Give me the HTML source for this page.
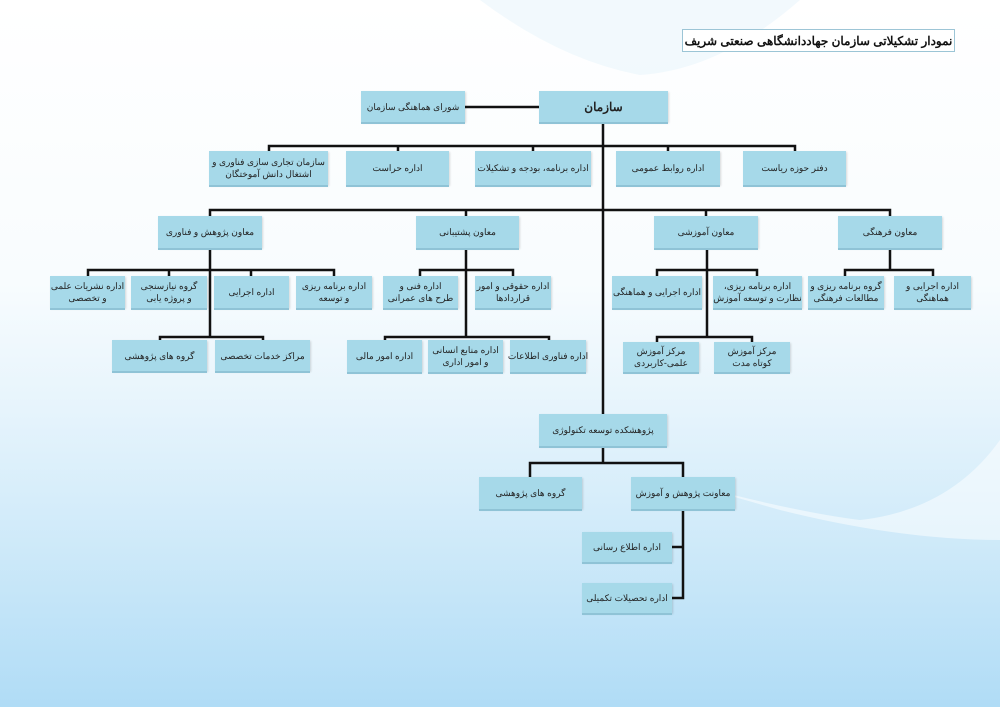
<!DOCTYPE html>
<html><head><meta charset="utf-8"><style>
html,body{margin:0;padding:0}
body{width:1000px;height:707px;position:relative;overflow:hidden;
background:linear-gradient(180deg,#ffffff 0%,#f8fcfe 40%,#e6f4fc 58%,#cde9f9 78%,#b0dcf6 100%);
font-family:"Liberation Sans","Noto Sans CJK SC",sans-serif;}
.b{position:absolute;background:#a6d9e9;box-shadow:0 2px 0 #8fc3d6,1px 1px 2px rgba(0,0,0,.15);
display:flex;align-items:center;justify-content:center;text-align:center;direction:rtl;white-space:nowrap;
font-size:9px;line-height:12px;color:#222;box-sizing:border-box;padding:0;letter-spacing:-0.3px}
.t{position:absolute;left:682px;top:29px;width:273px;height:23px;border:1px solid #9cc5d6;background:#fff;
box-sizing:border-box;display:flex;align-items:center;justify-content:center;direction:rtl;font-weight:bold;font-size:12px;color:#111;white-space:nowrap;letter-spacing:-0.3px}
svg{position:absolute;left:0;top:0}
</style></head><body>
<svg width="1000" height="707">
<path d="M480 0 Q560 60 640 75 Q720 70 800 0 Z" fill="#e9f5fc" opacity=".6"/>
<path d="M640 470 Q780 510 860 520 Q950 510 1000 440 L1000 540 Q900 540 780 510 Z" fill="#ffffff" opacity=".5"/>
<g stroke="#111" stroke-width="2.5" fill="none">
<line x1="465" y1="107" x2="539" y2="107"/>
<line x1="603" y1="122" x2="603" y2="415"/>
<path d="M269 151V146H795V151 M398 146V151 M533 146V151 M668 146V151"/>
<path d="M210 216V210H890V216 M466 210V216 M706 210V216"/>
<path d="M88 276V270H334V276 M169 270V276 M251 270V276 M210 248V337"/>
<path d="M420 276V270H513V276 M466 248V337"/>
<path d="M657 276V270H757V276 M707 248V337"/>
<path d="M845 276V270H933V276 M890 248V270"/>
<path d="M160 340V337H263V340"/>
<path d="M385 340V337H549V340"/>
<path d="M657 342V337H752V342"/>
<path d="M603 446V463 M530 477V463H683V477"/>
<path d="M683 509V598H672 M672 547H683"/>
</g>
</svg>
<div class="t">نمودار تشکیلاتی سازمان جهاددانشگاهی صنعتی شریف</div>
<div class="b" style="left:539px;top:91px;width:129px;height:31px;font-weight:bold;font-size:12px">سازمان</div>
<div class="b" style="left:361px;top:91px;width:104px;height:31px">شورای هماهنگی سازمان</div>

<div class="b" style="left:209px;top:151px;width:119px;height:34px">سازمان تجاری سازی فناوری و<br>اشتغال دانش آموختگان</div>
<div class="b" style="left:346px;top:151px;width:103px;height:34px">اداره حراست</div>
<div class="b" style="left:475px;top:151px;width:116px;height:34px">اداره برنامه، بودجه و تشکیلات</div>
<div class="b" style="left:616px;top:151px;width:104px;height:34px">اداره روابط عمومی</div>
<div class="b" style="left:743px;top:151px;width:103px;height:34px">دفتر حوزه ریاست</div>

<div class="b" style="left:158px;top:216px;width:104px;height:32px">معاون پژوهش و فناوری</div>
<div class="b" style="left:416px;top:216px;width:103px;height:32px">معاون پشتیبانی</div>
<div class="b" style="left:654px;top:216px;width:104px;height:32px">معاون آموزشی</div>
<div class="b" style="left:838px;top:216px;width:104px;height:32px">معاون فرهنگی</div>

<div class="b" style="left:50px;top:276px;width:75px;height:32px">اداره نشریات علمی<br>و تخصصی</div>
<div class="b" style="left:131px;top:276px;width:76px;height:32px">گروه نیازسنجی<br>و پروژه یابی</div>
<div class="b" style="left:214px;top:276px;width:75px;height:32px">اداره اجرایی</div>
<div class="b" style="left:296px;top:276px;width:76px;height:32px">اداره برنامه ریزی<br>و توسعه</div>
<div class="b" style="left:383px;top:276px;width:75px;height:32px">اداره فنی و<br>طرح های عمرانی</div>
<div class="b" style="left:475px;top:276px;width:76px;height:32px">اداره حقوقی و امور<br>قراردادها</div>
<div class="b" style="left:612px;top:276px;width:90px;height:32px">اداره اجرایی و هماهنگی</div>
<div class="b" style="left:713px;top:276px;width:89px;height:32px">اداره برنامه ریزی،<br>نظارت و توسعه آموزش</div>
<div class="b" style="left:808px;top:276px;width:76px;height:32px">گروه برنامه ریزی و<br>مطالعات فرهنگی</div>
<div class="b" style="left:894px;top:276px;width:77px;height:32px">اداره اجرایی و<br>هماهنگی</div>

<div class="b" style="left:112px;top:340px;width:95px;height:31px">گروه های پژوهشی</div>
<div class="b" style="left:215px;top:340px;width:95px;height:31px">مراکز خدمات تخصصی</div>
<div class="b" style="left:347px;top:340px;width:75px;height:32px">اداره امور مالی</div>
<div class="b" style="left:428px;top:340px;width:75px;height:32px">اداره منابع انسانی<br>و امور اداری</div>
<div class="b" style="left:510px;top:340px;width:76px;height:32px">اداره فناوری اطلاعات</div>
<div class="b" style="left:623px;top:342px;width:76px;height:30px">مرکز آموزش<br>علمی-کاربردی</div>
<div class="b" style="left:714px;top:342px;width:76px;height:30px">مرکز آموزش<br>کوتاه مدت</div>

<div class="b" style="left:539px;top:414px;width:128px;height:32px">پژوهشکده توسعه تکنولوژی</div>
<div class="b" style="left:479px;top:477px;width:103px;height:32px">گروه های پژوهشی</div>
<div class="b" style="left:631px;top:477px;width:104px;height:32px">معاونت پژوهش و آموزش</div>
<div class="b" style="left:582px;top:532px;width:90px;height:30px">اداره اطلاع رسانی</div>
<div class="b" style="left:582px;top:583px;width:90px;height:30px">اداره تحصیلات تکمیلی</div>
</body></html>
